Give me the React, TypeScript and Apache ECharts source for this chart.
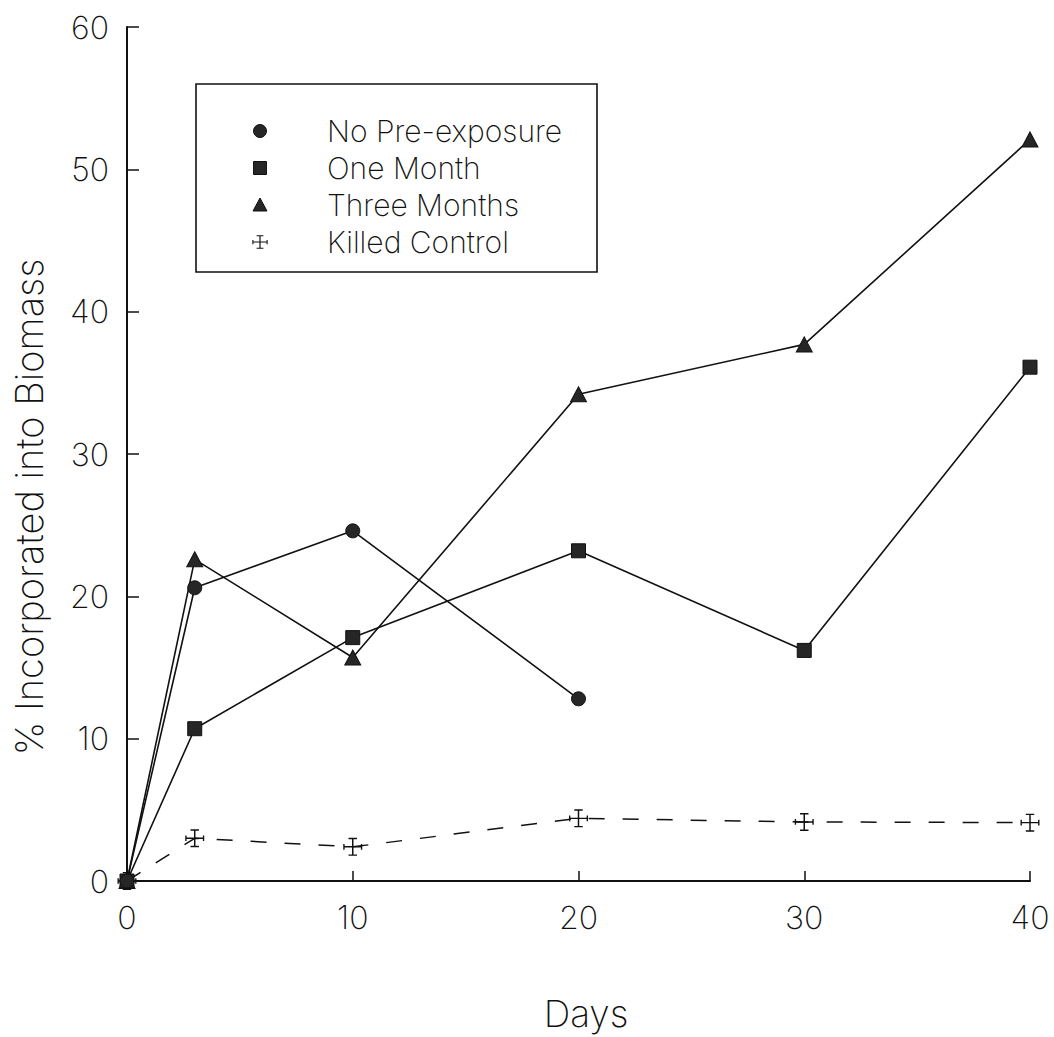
import React, { useEffect, useRef } from "react";
import * as echarts from "echarts";

const days = [0, 3, 10, 20, 30, 40];
const noPreExposure = [0, 20.6, 24.6, 12.8];
const oneMonth = [0, 10.7, 17.1, 23.2, 16.2, 36.1];
const threeMonths = [0, 22.6, 15.7, 34.2, 37.7, 52.1];
const killedControl = [0, 3.0, 2.4, 4.4, 4.15, 4.1];
const seriesNames = ["No Pre-exposure", "One Month", "Three Months", "Killed Control"];
const xTicks = [0, 10, 20, 30, 40];
const yTicks = [0, 10, 20, 30, 40, 50, 60];

const FONT = "Inter, 'DejaVu Sans', sans-serif";
const FW = 200;
const INK = "#111";
const FILL = "#262626";

const crossPath =
  "M9.3 2 H10.7 V18 H9.3 Z M6 2 H14 V3.3 H6 Z M6 16.7 H14 V18 H6 Z M1 9.35 H19 V10.65 H1 Z M1 7.5 H2.3 V12.5 H1 Z M17.7 7.5 H19 V12.5 H17.7 Z";

let registered = false;
function ensureShape() {
  if (registered) return;
  echarts.graphic.registerShape("killedIcon", echarts.graphic.extendPath(crossPath, {}) as any);
  registered = true;
}

function pairs(vals: number[]) {
  return vals.map((v, i) => [days[i], v]);
}

export default function App() {
  const ref = useRef<HTMLDivElement>(null);
  useEffect(() => {
    if (!ref.current) return;
    ensureShape();
    const chart = echarts.init(ref.current, null, { renderer: "svg" });
    const lineStyle = { color: INK, width: 1.6 };
    const itemStyle = { color: FILL, borderColor: INK, borderWidth: 1 };
    const textStyle = { fontFamily: FONT, fontWeight: FW, fontSize: 30, lineHeight: 30, fill: INK };
    const titleStyle = { fontFamily: FONT, fontWeight: FW, fontSize: 38, fill: INK };
    const legendRows = [131, 168, 205, 242];
    chart.setOption({
      animation: false,
      backgroundColor: "#fff",
      grid: { left: 127, right: 24, top: 27, bottom: 156, containLabel: false },
      xAxis: {
        type: "value",
        min: 0,
        max: 40,
        interval: 10,
        axisLine: { show: true, lineStyle: { color: INK, width: 2 } },
        axisTick: { show: true, inside: true, length: 10, lineStyle: { color: INK, width: 1.5 } },
        splitLine: { show: false },
        axisLabel: {
          margin: 20,
          fontFamily: FONT,
          fontWeight: FW,
          fontSize: 32,
          color: INK,
          customValues: xTicks,
        },
      },
      yAxis: {
        type: "value",
        min: 0,
        max: 60,
        interval: 10,
        axisLine: { show: true, lineStyle: { color: INK, width: 2 } },
        axisTick: { show: true, inside: true, length: 12, lineStyle: { color: INK, width: 1.5 } },
        splitLine: { show: false },
        axisLabel: {
          margin: 18,
          fontFamily: FONT,
          fontWeight: FW,
          fontSize: 32,
          color: INK,
          customValues: yTicks,
        },
      },
      series: [
        {
          name: seriesNames[0],
          type: "line",
          data: pairs(noPreExposure),
          symbol: "circle",
          symbolSize: 14,
          showAllSymbol: true,
          lineStyle,
          itemStyle,
          z: 5,
        },
        {
          name: seriesNames[1],
          type: "line",
          data: pairs(oneMonth),
          symbol: "rect",
          symbolSize: 14,
          lineStyle,
          itemStyle,
          z: 4,
        },
        {
          name: seriesNames[2],
          type: "line",
          data: pairs(threeMonths),
          symbol: "triangle",
          symbolSize: [16, 15],
          lineStyle,
          itemStyle,
          z: 3,
        },
        {
          name: seriesNames[3],
          type: "line",
          data: pairs(killedControl),
          symbol: "path://" + crossPath,
          symbolSize: [19, 18],
          lineStyle: { color: INK, width: 1.5, type: [16, 18] },
          itemStyle: { color: INK, borderWidth: 0 },
          z: 2,
        },
      ],
      graphic: [
        {
          type: "rect",
          shape: { x: 196, y: 84, width: 401, height: 188 },
          style: { fill: "none", stroke: INK, lineWidth: 1.6 },
          z: 10,
        },
        {
          type: "circle",
          shape: { cx: 260, cy: legendRows[0], r: 6.5 },
          style: { fill: FILL, stroke: INK, lineWidth: 1 },
          z: 10,
        },
        {
          type: "rect",
          shape: { x: 253.5, y: legendRows[1] - 6.5, width: 13, height: 13 },
          style: { fill: FILL, stroke: INK, lineWidth: 1 },
          z: 10,
        },
        {
          type: "polygon",
          shape: {
            points: [
              [260, legendRows[2] - 7],
              [267, legendRows[2] + 6],
              [253, legendRows[2] + 6],
            ],
          },
          style: { fill: FILL, stroke: INK, lineWidth: 1 },
          z: 10,
        },
        {
          type: "killedIcon",
          x: 260 - 9 * 0.85 - 0.85,
          y: legendRows[3] - 10 * 0.85,
          scaleX: 0.85,
          scaleY: 0.85,
          style: { fill: INK },
          z: 10,
        },
        ...seriesNames.map((n, i) => ({
          type: "text",
          x: 327,
          y: legendRows[i],
          style: { text: n, ...textStyle, textVerticalAlign: "middle", verticalAlign: "middle" },
          z: 10,
        })),
        {
          type: "text",
          x: 586,
          y: 1013,
          style: {
            text: "Days",
            ...titleStyle,
            fontSize: 37,
            align: "center",
            textAlign: "center",
            verticalAlign: "middle",
            textVerticalAlign: "middle",
          },
        },
        {
          type: "text",
          x: 29,
          y: 507,
          rotation: Math.PI / 2,
          style: {
            text: "% Incorporated into Biomass",
            ...titleStyle,
            align: "center",
            textAlign: "center",
            verticalAlign: "middle",
            textVerticalAlign: "middle",
          },
        },
      ],
    });
    return () => chart.dispose();
  }, []);
  return <div ref={ref} style={{ width: 1054, height: 1037, position: "absolute", left: 0, top: 0 }} />;
}
